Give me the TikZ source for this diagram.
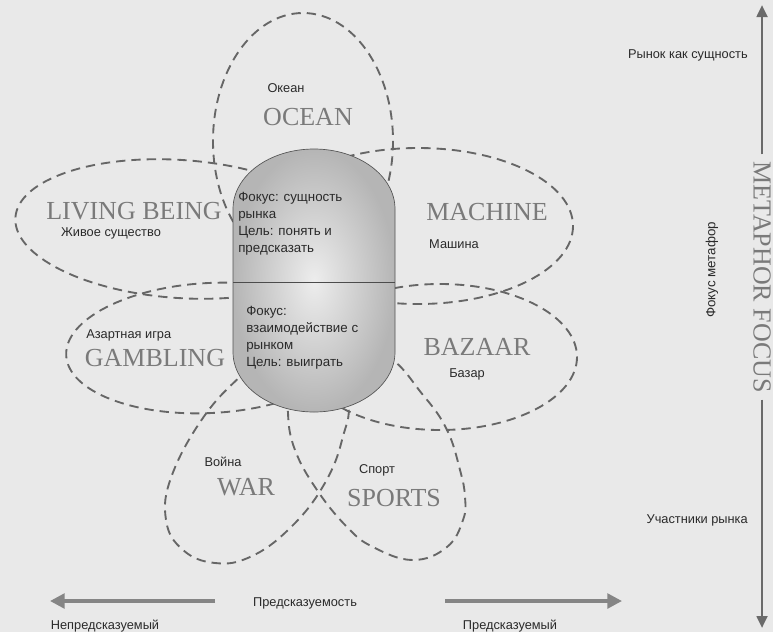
\documentclass[tikz,border=0pt]{standalone}
\usepackage{fontspec}
\setmainfont{Liberation Serif}
\newfontfamily\rufont{Liberation Sans}
\usetikzlibrary{arrows.meta}
\definecolor{bg}{HTML}{E9E9E9}
\definecolor{petalc}{HTML}{666666}
\definecolor{capc}{HTML}{7A7A7A}
\definecolor{rutext}{HTML}{2A2A2A}
\definecolor{arrowc}{HTML}{858585}
\begin{document}
\begin{tikzpicture}[x=0.75pt,y=-0.75pt,
  petal/.style={draw=petalc, line width=1.4pt, dash pattern=on 7pt off 4.5pt},
  capl/.style={font=\fontsize{19.5}{20}\selectfont, text=capc, inner sep=0pt},
  ru/.style={font=\rufont\fontsize{9.6}{11}\selectfont, text=rutext, inner sep=0pt},
  inbox/.style={font=\rufont\fontsize{10}{12.75}\selectfont, text=rutext, align=left, inner sep=0pt, anchor=north west},
  bigarrow/.style={draw=arrowc, line width=2.6pt, -{Triangle[length=11pt,width=11pt]}},
  varrow/.style={draw=arrowc!80!black, line width=2pt, -{Triangle[length=9pt,width=8pt]}}
]
\fill[bg] (0,0) rectangle (773,632);
\useasboundingbox (0,0) rectangle (773,632);

% petals
\draw[petal] (303,141) ellipse [x radius=90, y radius=128];
\draw[petal, rotate around={-4:(180,229)}] (180,229) ellipse [x radius=165, y radius=69];
\draw[petal] (418,226) ellipse [x radius=155, y radius=78];
\draw[petal, rotate around={3:(210,348)}] (210,348) ellipse [x radius=144, y radius=65];
\draw[petal] (440,357) ellipse [x radius=137, y radius=73];
\draw[petal] plot[smooth cycle, tension=0.7] coordinates {(300,345) (345,395) (342,440) (322,488) (288,530) (250,557) (215,563) (183,550) (166,520) (172,475) (205,415) (245,372) (272,350)};
\draw[petal] plot[smooth cycle, tension=0.7] coordinates {(330,345) (385,355) (423,395) (447,430) (460,470) (465,497) (463,520) (447,547) (413,560) (373,547) (347,527) (317,490) (295,450) (288,413) (292,380)};

% capsule
\shadedraw[inner color=gray!14, outer color=gray!58, draw=gray!65!black, line width=0.5pt]
  (233,209) arc[start angle=180, end angle=360, x radius=81, y radius=60]
  -- (395,352) arc[start angle=0, end angle=180, x radius=81, y radius=60] -- cycle;
\draw[gray!60!black, line width=0.5pt] (233,282) -- (395,282);

\node[inbox] (topbox) at (238,192) {Фокус: сущность\\рынка\\Цель: понять и\\предсказать};
\node[inbox] (botbox) at (246,306) {Фокус:\\взаимодействие с\\рынком\\Цель: выиграть};

% labels
\node[ru] (oceanru) at (286,88) {Океан};
\node[capl] (ocean) at (308,117) {OCEAN};
\node[capl] (living) at (134,211) {LIVING BEING};
\node[ru] (livingru) at (111,233) {Живое существо};
\node[capl] (machine) at (487,212) {MACHINE};
\node[ru] (machineru) at (454,244) {Машина};
\node[ru, anchor=west] (gamblingru) at (86,335) {Азартная игра};
\node[capl] (gambling) at (155,358) {GAMBLING};
\node[capl] (bazaar) at (477,347) {BAZAAR};
\node[ru] (bazaarru) at (467,374) {Базар};
\node[ru] (warru) at (223,462) {Война};
\node[capl] (war) at (246,487) {WAR};
\node[ru] (sportsru) at (377,470) {Спорт};
\node[capl] (sports) at (394,498) {SPORTS};

% right axis
\node[capl, rotate=-90, inner xsep=5pt] (mf) at (762,277) {METAPHOR FOCUS};
\coordinate (vt) at (762,5);
\coordinate (vb) at (762,628);
\draw[varrow] (mf.west) -- (vt);
\draw[varrow] (mf.east) -- (vb);
\node[ru, anchor=east] (rynok) at (748,55) {Рынок как сущность};
\node[ru, anchor=east] (uchast) at (748,520) {Участники рынка};
\node[ru, rotate=90, font=\rufont\fontsize{10}{12}\selectfont] (fokusm) at (712,270) {Фокус метафор};

% bottom axis
\node[ru] (pred) at (305,603) {Предсказуемость};
\node[ru] (nepred) at (105,626) {Непредсказуемый};
\node[ru] (predy) at (510,626) {Предсказуемый};
\coordinate (la) at (215,601);
\coordinate (lb) at (50,601);
\coordinate (ra) at (445,601);
\coordinate (rb) at (622,601);
\draw[bigarrow] (la) -- (lb);
\draw[bigarrow] (ra) -- (rb);
\end{tikzpicture}
\end{document}
